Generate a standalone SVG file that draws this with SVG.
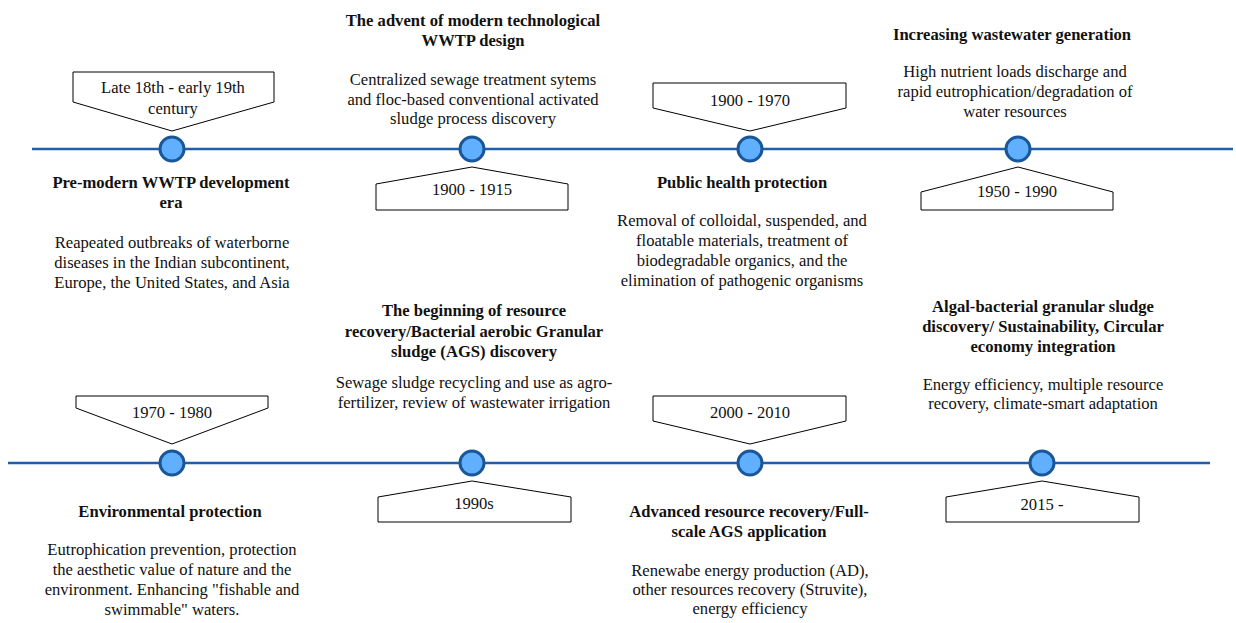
<svg xmlns="http://www.w3.org/2000/svg" width="1236" height="623" viewBox="0 0 1236 623">
<style>
.tl{stroke:#1f5ea8;stroke-width:2.5;fill:none}
.dot{fill:#61b0ff;stroke:#1a5799;stroke-width:3}
.box{fill:#fff;stroke:#000;stroke-width:1}
.b{font-weight:bold}
</style>
<rect width="1236" height="623" fill="#fff"/>
<g id="connectors">
<line class="tl" x1="32" y1="149" x2="1233" y2="149"/>
<line class="tl" x1="8" y1="463" x2="1210" y2="463"/>
</g>
<g font-family="'Liberation Serif', 'Times New Roman', serif" font-size="16.6" fill="#111" text-anchor="middle">
<g id="n1">
<path class="box" d="M73,72 H274 V102 L172,131 L73,102 Z"/>
<text x="173" y="93">Late 18th - early 19th</text>
<text x="173" y="114">century</text>
<circle class="dot" cx="172" cy="149" r="12"/>
<text class="b" x="171" y="188">Pre-modern WWTP development</text>
<text class="b" x="171" y="208">era</text>
<text x="172" y="248">Reapeated outbreaks of waterborne</text>
<text x="172" y="268">diseases in the Indian subcontinent,</text>
<text x="172" y="288">Europe, the United States, and Asia</text>
</g>
<g id="n2">
<text class="b" x="473" y="26">The advent of modern technological</text>
<text class="b" x="473" y="46">WWTP design</text>
<text x="473" y="85">Centralized sewage treatment sytems</text>
<text x="473" y="105">and floc-based conventional activated</text>
<text x="473" y="124">sludge process discovery</text>
<circle class="dot" cx="472" cy="149" r="12"/>
<path class="box" d="M472,167 L568,184 V210 H376 V184 Z"/>
<text x="472" y="195">1900 - 1915</text>
</g>
<g id="n3">
<path class="box" d="M653,83 H846 V108 L750,131 L653,108 Z"/>
<text x="750" y="106">1900 - 1970</text>
<circle class="dot" cx="750" cy="149" r="12"/>
<text class="b" x="742" y="188">Public health protection</text>
<text x="742" y="226">Removal of colloidal, suspended, and</text>
<text x="742" y="246">floatable materials, treatment of</text>
<text x="742" y="266">biodegradable organics, and the</text>
<text x="742" y="286">elimination of pathogenic organisms</text>
</g>
<g id="n4">
<text class="b" x="1012" y="40">Increasing wastewater generation</text>
<text x="1015" y="77">High nutrient loads discharge and</text>
<text x="1015" y="97">rapid eutrophication/degradation of</text>
<text x="1015" y="117">water resources</text>
<circle class="dot" cx="1018" cy="149" r="12"/>
<path class="box" d="M1018,167 L1113,192 V210 H921 V192 Z"/>
<text x="1017" y="197">1950 - 1990</text>
</g>
<g id="n5">
<path class="box" d="M76,396 H268 V408 L172,444 L76,408 Z"/>
<text x="172" y="418">1970 - 1980</text>
<circle class="dot" cx="172" cy="463" r="12"/>
<text class="b" x="170" y="517">Environmental protection</text>
<text x="172" y="555">Eutrophication prevention, protection</text>
<text x="172" y="575">the aesthetic value of nature and the</text>
<text x="172" y="595">environment. Enhancing "fishable and</text>
<text x="172" y="615">swimmable" waters.</text>
</g>
<g id="n6">
<text class="b" x="474" y="316">The beginning of resource</text>
<text class="b" x="474" y="337">recovery/Bacterial aerobic Granular</text>
<text class="b" x="474" y="357">sludge (AGS) discovery</text>
<text x="474" y="388">Sewage sludge recycling and use as agro-</text>
<text x="474" y="408">fertilizer, review of wastewater irrigation</text>
<circle class="dot" cx="472" cy="463" r="12"/>
<path class="box" d="M472,481 L571,497 V522 H378 V497 Z"/>
<text x="474" y="509">1990s</text>
</g>
<g id="n7">
<path class="box" d="M653,396 H846 V421 L750,444 L653,421 Z"/>
<text x="750" y="418">2000 - 2010</text>
<circle class="dot" cx="750" cy="463" r="12"/>
<text class="b" x="749" y="517">Advanced resource recovery/Full-</text>
<text class="b" x="749" y="537">scale AGS application</text>
<text x="750" y="576">Renewabe energy production (AD),</text>
<text x="750" y="595">other resources recovery (Struvite),</text>
<text x="750" y="614">energy efficiency</text>
</g>
<g id="n8">
<text class="b" x="1043" y="312">Algal-bacterial granular sludge</text>
<text class="b" x="1043" y="332">discovery/ Sustainability, Circular</text>
<text class="b" x="1043" y="352">economy integration</text>
<text x="1043" y="390">Energy efficiency, multiple resource</text>
<text x="1043" y="409">recovery, climate-smart adaptation</text>
<circle class="dot" cx="1042" cy="463" r="12"/>
<path class="box" d="M1042,481 L1139,497 V522 H946 V497 Z"/>
<text x="1042" y="510">2015 -</text>
</g>
</g>
</svg>
